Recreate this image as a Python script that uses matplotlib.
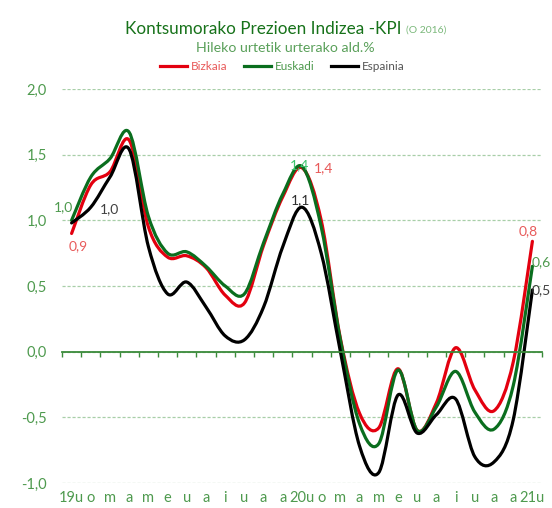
import numpy as np
import matplotlib.pyplot as plt
from matplotlib.path import Path
from matplotlib.patches import PathPatch
from matplotlib.lines import Line2D

plt.rcParams['font.family'] = ['Lato', 'DejaVu Sans']

# hilabeteak: 2019 urtarrila -> 2021 urtarrila
months = ["19u", "o", "m", "a", "m", "e", "u", "a", "i", "u", "a", "a",
          "20u", "o", "m", "a", "m", "e", "u", "a", "i", "u", "a", "a", "21u"]

bizkaia = [0.9, 1.27, 1.37, 1.61, 0.95, 0.72, 0.73, 0.64, 0.43, 0.37, 0.81, 1.18,
           1.4, 1.0, 0.1, -0.47, -0.58, -0.13, -0.6, -0.39, 0.03, -0.29, -0.45, -0.08, 0.84]
euskadi = [1.0, 1.33, 1.47, 1.67, 1.03, 0.75, 0.76, 0.65, 0.5, 0.44, 0.83, 1.2,
           1.41, 0.95, 0.09, -0.55, -0.7, -0.14, -0.6, -0.42, -0.15, -0.46, -0.59, -0.26, 0.65]
espainia = [0.98, 1.1, 1.33, 1.54, 0.8, 0.44, 0.53, 0.34, 0.12, 0.09, 0.34, 0.8,
            1.1, 0.75, 0.0, -0.72, -0.92, -0.33, -0.62, -0.48, -0.36, -0.8, -0.84, -0.52, 0.47]

yticks = [-1.0, -0.5, 0.0, 0.5, 1.0, 1.5, 2.0]

RED = '#e3000f'
GREEN = '#0a6e1e'
BLACK = '#000000'
TXTGREEN = '#4e9a4e'


def smooth_path(x, y):
    # excel-en "smoothed line" antzekoa (catmull-rom bezier)
    pts = np.column_stack([x, y]).astype(float)
    n = len(pts)
    verts = [pts[0]]
    codes = [Path.MOVETO]
    for i in range(n - 1):
        p0 = pts[max(i - 1, 0)]
        p1 = pts[i]
        p2 = pts[i + 1]
        p3 = pts[min(i + 2, n - 1)]
        verts += [p1 + (p2 - p0) / 6, p2 - (p3 - p1) / 6, p2]
        codes += [Path.CURVE4] * 3
    return Path(verts, codes)


fig = plt.figure(figsize=(5.52, 5.08), dpi=100)
ax = fig.add_axes([62 / 552, 25 / 508, 480 / 552, 394 / 508])

x = np.arange(len(months))
for vals, col in [(bizkaia, RED), (euskadi, GREEN), (espainia, BLACK)]:
    ax.add_patch(PathPatch(smooth_path(x, vals), facecolor='none',
                           edgecolor=col, lw=2.3, capstyle='round', joinstyle='round'))

ax.set_xlim(-0.5, len(months) - 0.5)
ax.set_ylim(-1.0, 2.0)

# y ardatza
ax.set_yticks(yticks, labels=[f"{v:.1f}".replace('.', ',') for v in yticks])
ax.tick_params(axis='y', length=0, pad=11, labelsize=10.5, labelcolor=TXTGREEN)
ax.yaxis.grid(True, color='#a8cfa8', linestyle=(0, (2.5, 1.5)), lw=0.9)
ax.set_axisbelow(True)

for s in ['left', 'right', 'top']:
    ax.spines[s].set_visible(False)
ax.spines['bottom'].set_position(('data', 0))
ax.spines['bottom'].set_color('#3a8a3a')
ax.spines['bottom'].set_linewidth(1.3)
ax.set_xticks(np.arange(-0.5, len(months), 1))
ax.tick_params(axis='x', length=3.5, width=1, color='#3a8a3a', labelbottom=False)

sec = ax.secondary_xaxis('bottom')
sec.set_xticks(x, labels=months)
sec.tick_params(length=0, pad=6, labelsize=10.5, labelcolor=TXTGREEN)
sec.spines['bottom'].set_visible(False)

# datu etiketak
def lab(txt, xi, yi, dx, dy, col):
    ax.annotate(txt, (xi, yi), xytext=(dx, dy), textcoords='offset points',
                ha='center', va='center', fontsize=10, color=col)

lab("0,9", 0, bizkaia[0], 4.6, -9.4, '#e85a5a')
lab("1,0", 0, euskadi[0], -5.5, 9.4, TXTGREEN)
lab("1,0", 0, espainia[0], 27.5, 9.8, '#404040')
lab("1,4", 12, euskadi[12], -1.5, 1, '#3cc46c')
lab("1,4", 12, bizkaia[12], 15.4, 0, '#e85a5a')
lab("1,1", 12, espainia[12], -1.2, 5, '#303030')
lab("0,8", 24, bizkaia[24], -3.3, 7.2, '#e85a5a')
lab("0,6", 24, euskadi[24], 6.5, 2.7, TXTGREEN)
lab("0,5", 24, espainia[24], 6.5, 0, '#404040')

# izenburua
t1 = fig.text(0, 1 - 29 / 508, "Kontsumorako Prezioen Indizea -KPI", fontsize=12.3,
              color='#17721a', ha='left', va='center')
t2 = fig.text(0, 1 - 29 / 508, "(O 2016)", fontsize=7.5, color='#7ab87a',
              ha='left', va='center')
r = fig.canvas.get_renderer()
w1 = t1.get_window_extent(r).width
w2 = t2.get_window_extent(r).width
gap = 5
start = 285.5 - (w1 + gap + w2) / 2
t1.set_x(start / 552)
t2.set_x((start + w1 + gap) / 552)
t2.set_y(1 - 30 / 508)

fig.text(285 / 552, 1 - 47.5 / 508, "Hileko urtetik urterako ald.%", fontsize=10.2,
         color='#5aa05a', ha='center', va='center')

handles = [Line2D([], [], color=c, lw=2.3) for c in (RED, GREEN, BLACK)]
leg = fig.legend(handles, ["Bizkaia", "Euskadi", "Espainia"], loc='center',
                 bbox_to_anchor=(282 / 552, 1 - 67 / 508), ncol=3, frameon=False,
                 fontsize=8.5, handlelength=2.3, handletextpad=0.3, columnspacing=1.4)
for t, c in zip(leg.get_texts(), ['#e85a5a', TXTGREEN, '#555555']):
    t.set_color(c)

fig.savefig("out.png", dpi=100)
